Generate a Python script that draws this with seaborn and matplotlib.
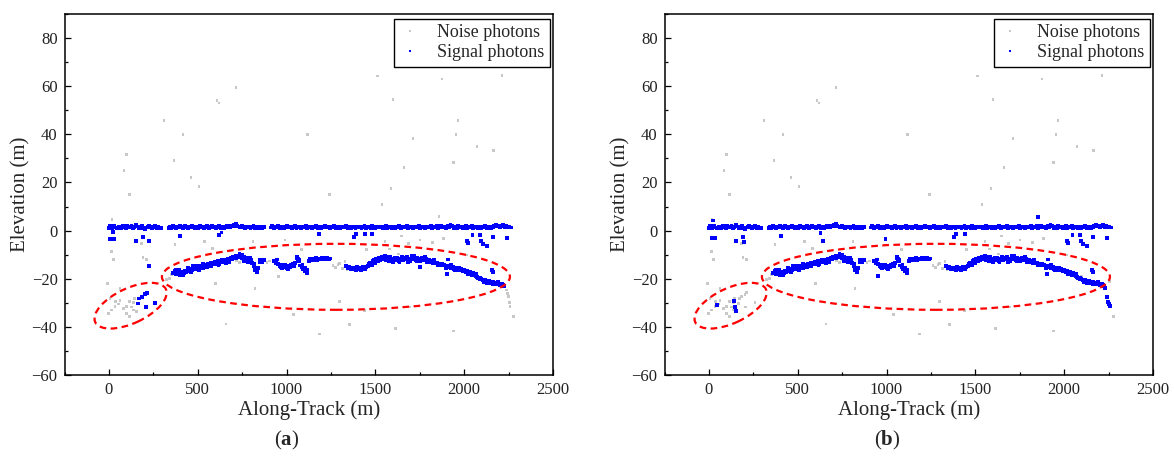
import numpy as np
import pandas as pd
import matplotlib
matplotlib.use("Agg")
import matplotlib.pyplot as plt
import seaborn as sns
from matplotlib.patches import Ellipse
from matplotlib.lines import Line2D
import matplotlib.transforms as mtransforms

# ---------------- data ----------------
surface_x = [0, 7, 15, 22, 31, 38, 46, 55, 63, 70,
             79, 87, 95, 104, 112, 120, 127, 136, 144, 152,
             161, 169, 177, 186, 194, 203, 211, 219, 228, 236,
             245, 253, 262, 270, 278, 287, 295, 336, 344, 352,
             361, 369, 377, 386, 394, 402, 411, 419, 428, 436,
             444, 453, 461, 470, 478, 486, 495, 503, 512, 520,
             528, 537, 545, 554, 562, 570, 579, 587, 596, 604,
             612, 621, 629, 638, 646, 654, 663, 671, 680, 688,
             696, 705, 713, 722, 730, 738, 747, 755, 764, 772,
             780, 789, 797, 806, 814, 822, 831, 839, 848, 856,
             864, 873, 912, 920, 929, 937, 946, 954, 963, 971,
             980, 988, 997, 1005, 1014, 1022, 1031, 1039, 1048, 1056,
             1065, 1073, 1082, 1090, 1099, 1107, 1116, 1124, 1133, 1141,
             1150, 1158, 1167, 1175, 1184, 1192, 1201, 1209, 1218, 1226,
             1235, 1243, 1252, 1260, 1269, 1277, 1286, 1294, 1303, 1311,
             1320, 1328, 1337, 1345, 1354, 1362, 1371, 1379, 1388, 1396,
             1405, 1413, 1422, 1430, 1439, 1447, 1456, 1464, 1473, 1481,
             1490, 1498, 1507, 1515, 1524, 1532, 1541, 1549, 1558, 1566,
             1575, 1583, 1592, 1600, 1609, 1617, 1626, 1634, 1643, 1651,
             1660, 1668, 1677, 1685, 1694, 1702, 1711, 1719, 1728, 1736,
             1745, 1753, 1762, 1770, 1779, 1787, 1796, 1804, 1813, 1821,
             1830, 1838, 1847, 1855, 1864, 1872, 1881, 1889, 1898, 1906,
             1915, 1923, 1932, 1940, 1949, 1957, 1966, 1974, 1983, 1991,
             2000, 2008, 2017, 2025, 2034, 2042, 2051, 2059, 2068, 2076,
             2085, 2093, 2102, 2110, 2119, 2127, 2136, 2144, 2153, 2161,
             2170, 2178, 2187, 2195, 2204, 2212, 2221, 2229, 2238, 2246,
             2255, 2262]
surface_y = [1.2, 1.8, 1.0, 1.6, 2.1, 1.3, 0.9, 1.7, 1.4, 1.1,
             1.9, 1.5, 1.2, 2.0, 1.6, 1.3, 1.8, 1.0, 1.5, 2.2,
             1.7, 1.2, 1.4, 1.9, 1.1, 0.8, 1.3, 1.6, 2.0, 1.4,
             1.0, 1.5, 1.8, 1.2, 1.6, 1.3, 1.1, 0.9, 1.4, 1.2,
             1.8, 1.5, 1.1, 1.7, 1.3, 2.0, 1.6, 1.2, 1.9, 1.4,
             1.0, 1.6, 1.3, 1.8, 1.5, 1.1, 1.7, 1.2, 1.9, 1.4,
             1.6, 1.0, 1.5, 1.8, 1.2, 1.4, 2.0, 1.3, 1.6, 1.1,
             1.5, 1.9, 1.2, 1.7, 1.0, 1.4, 1.8, 1.3, 1.6, 2.1,
             1.8, 2.3, 2.6, 2.0, 1.7, 1.4, 1.9, 1.5, 1.2, 1.6,
             1.3, 1.7, 1.1, 1.5, 1.8, 1.2, 1.6, 1.0, 1.4, 1.7,
             1.2, 1.5, 1.3, 1.8, 1.1, 1.6, 1.4, 1.9, 1.2, 1.5,
             1.7, 1.0, 1.4, 1.8, 1.3, 1.6, 1.1, 1.5, 1.9, 1.2,
             1.4, 1.7, 1.0, 1.5, 1.3, 1.8, 1.2, 1.6, 1.4, 1.1,
             1.6, 1.3, 1.8, 1.2, 1.5, 1.0, 1.7, 1.4, 1.9, 1.3,
             1.5, 1.1, 1.6, 1.4, 1.8, 1.2, 1.5, 1.7, 1.0, 1.4,
             1.6, 1.3, 1.8, 1.1, 1.5, 1.2, 1.7, 1.4, 1.0, 1.6,
             1.3, 1.7, 1.2, 1.5, 1.9, 1.1, 1.4, 1.6, 1.2, 1.8,
             1.5, 1.0, 1.4, 1.7, 1.3, 1.6, 1.1, 1.5, 1.8, 1.2,
             1.4, 1.7, 1.2, 1.6, 1.0, 1.5, 1.3, 1.8, 1.1, 1.6,
             1.3, 1.5, 1.9, 1.2, 1.6, 1.4, 1.0, 1.7, 1.3, 1.5,
             1.8, 1.2, 1.6, 1.4, 1.1, 1.7, 1.3, 1.5, 1.9, 1.2,
             1.6, 1.4, 1.8, 1.1, 1.5, 2.0, 1.3, 1.7, 1.2, 1.9,
             1.5, 2.4, 1.8, 1.2, 1.6, 1.0, 1.9, 1.4, 1.7, 1.1,
             1.5, 1.8, 1.2, 1.6, 1.3, 1.9, 1.0, 1.4, 1.7, 1.2,
             1.6, 1.1, 1.5, 1.3, 1.8, 1.0, 1.4, 1.7, 1.2, 1.5,
             1.9, 2.3, 1.7, 2.1, 1.4, 1.8, 2.2, 1.6, 2.0, 1.5,
             1.7, 1.3]

bottom_x = [362, 370, 378, 386, 394, 402, 410, 418, 427, 435,
            443, 451, 459, 467, 475, 484, 492, 500, 508, 516,
            524, 532, 540, 548, 556, 565, 573, 581, 589, 597,
            605, 613, 621, 629, 637, 646, 654, 662, 670, 678,
            686, 694, 702, 710, 718, 727, 735, 743, 751, 759,
            767, 775, 783, 791, 799, 808, 816, 824, 832, 840,
            848, 856, 864, 872, 930, 938, 946, 954, 962, 970,
            978, 986, 994, 1002, 1010, 1018, 1026, 1034, 1042, 1050,
            1058, 1064, 1070, 1078, 1086, 1094, 1102, 1110, 1118, 1126,
            1134, 1142, 1150, 1158, 1166, 1174, 1182, 1190, 1198, 1206,
            1214, 1222, 1230, 1238, 1246, 1336, 1344, 1352, 1360, 1368,
            1376, 1384, 1392, 1400, 1408, 1416, 1424, 1432, 1440, 1448,
            1456, 1464, 1472, 1480, 1488, 1496, 1504, 1512, 1520, 1528,
            1536, 1544, 1552, 1560, 1568, 1576, 1584, 1592, 1600, 1608,
            1616, 1624, 1632, 1640, 1648, 1656, 1664, 1672, 1680, 1688,
            1696, 1704, 1712, 1720, 1728, 1736, 1744, 1752, 1760, 1768,
            1776, 1784, 1792, 1800, 1808, 1816, 1824, 1832, 1840, 1848,
            1856, 1864, 1872, 1880, 1888, 1896, 1904, 1912, 1920, 1928,
            1936, 1944, 1952, 1960, 1968, 1976, 1984, 1992, 2000, 2008,
            2016, 2024, 2032, 2040, 2048, 2056, 2064, 2072, 2080, 2088,
            2096, 2104, 2112, 2120, 2128, 2136, 2144, 2152, 2160, 2168,
            2176, 2184, 2192, 2200, 2208, 2216, 2222]
bottom_y = [-17.6, -16.8, -18.2, -17.1, -16.5, -17.9, -17.0, -18.4, -16.6, -17.3,
            -16.2, -17.0, -15.8, -16.4, -14.9, -15.6, -16.1, -15.2, -14.6, -15.5,
            -14.8, -15.4, -14.2, -14.9, -13.8, -14.5, -13.6, -14.1, -13.3, -14.0,
            -13.5, -12.8, -13.9, -13.1, -12.4, -13.2, -12.0, -12.7, -11.6, -12.2,
            -11.3, -12.0, -10.8, -11.5, -10.4, -11.0, -9.9, -10.6, -10.2, -11.1,
            -11.8, -12.5, -11.4, -12.9, -12.2, -13.6, -14.8, -16.3, -17.2, -15.4,
            -13.0, -12.4, -12.9, -12.2, -12.5, -13.4, -12.0, -13.9, -14.6, -15.1,
            -14.4, -15.3, -14.8, -15.6, -14.9, -15.2, -14.2, -13.8, -14.6, -13.5,
            -10.8, -11.9, -12.8, -14.5, -15.2, -16.1, -15.5, -17.0, -16.2, -12.6,
            -11.9, -12.4, -11.7, -12.1, -11.5, -12.0, -11.6, -11.9, -11.4, -11.8,
            -11.5, -11.9, -11.3, -11.7, -11.6, -14.9, -15.6, -15.2, -15.9, -15.4,
            -16.0, -15.5, -16.2, -15.7, -16.1, -15.6, -15.9, -15.3, -15.8, -15.0,
            -14.6, -14.0, -13.3, -14.2, -12.7, -13.5, -11.9, -12.6, -11.4, -12.1,
            -11.0, -11.8, -10.6, -12.2, -11.4, -12.6, -11.1, -11.9, -13.2, -11.5,
            -12.3, -11.2, -12.8, -11.6, -10.9, -12.4, -11.3, -12.0, -10.8, -11.7,
            -12.5, -11.1, -11.8, -10.7, -12.2, -11.4, -11.9, -12.6, -11.3, -12.0,
            -12.4, -11.8, -12.9, -12.3, -13.1, -12.7, -13.4, -13.0, -13.6, -13.3,
            -13.9, -14.2, -13.7, -14.5, -14.1, -14.9, -14.6, -15.3, -15.0, -15.6,
            -15.2, -15.9, -15.5, -16.2, -15.8, -16.4, -16.1, -16.7, -16.5, -17.2,
            -16.9, -17.6, -17.3, -18.1, -17.8, -18.6, -18.9, -19.3, -19.7, -20.2,
            -20.0, -20.7, -21.2, -21.0, -21.6, -21.4, -21.9, -21.7, -22.0, -21.8,
            -22.1, -22.3, -22.0, -22.5, -22.8, -22.6, -23.1]

bottom2_x = [380, 398, 422, 447, 463, 488, 505, 530, 552, 576,
             598, 617, 640, 659, 676, 698, 714, 731, 747, 763,
             780, 797, 818, 828, 836, 852, 940, 958, 975, 990,
             1008, 1030, 1061, 1068, 1090, 1106, 1115, 1140, 1170, 1200,
             1228, 1348, 1372, 1396, 1420, 1444, 1468, 1492, 1516, 1540,
             1564, 1588, 1612, 1636, 1660, 1684, 1708, 1732, 1756, 1780,
             1804, 1828, 1852, 1876, 1900, 1924, 1948, 1972, 1996, 2020,
             2044, 2068, 2092, 2116, 2140, 2164, 2188, 2212]
bottom2_y = [-16.3, -18.5, -17.5, -15.5, -17.1, -14.7, -16.4, -13.9, -15.0, -14.6,
             -12.9, -14.2, -12.5, -13.6, -12.9, -10.9, -11.6, -10.5, -11.4, -12.6,
             -13.2, -11.5, -14.0, -16.0, -16.8, -12.0, -12.8, -14.1, -15.6, -14.1,
             -15.8, -14.9, -11.5, -12.2, -14.4, -16.7, -17.5, -12.3, -12.2, -12.0,
             -11.2, -15.5, -16.1, -15.3, -16.3, -15.5, -13.6, -12.2, -12.8, -11.5,
             -10.9, -12.3, -11.9, -13.0, -11.7, -12.9, -10.6, -12.8, -11.6, -11.1,
             -12.8, -12.2, -14.4, -13.8, -15.4, -14.3, -16.3, -15.6, -17.0, -17.9,
             -18.4, -18.0, -19.8, -20.6, -20.9, -21.3, -21.5, -22.3]

noise_x = [17, 15, 28, -6, 101, 85, 118, 310, 366, 417,
           462, 507, 608, 620, 715, 602, 659, 822, 1120, 1244,
           1297, 1353, 1184, 1038, 1441, 1514, 1537, 1588, 1599, 1614,
           1661, 1712, 1695, 1858, 1875, 1942, 1954, 1965, 1942, 2072,
           2167, 2213, 2276, 192, 213, 185, 372, 540, 585, 811,
           991, 1085, 1451, 1554, 1578, 1629, 1648, 1685, 1751, 1822,
           1882, 2013, 2129, 953, 326, 343, 354, 720, 735, 750,
           765, 780, 860, 875, 890, 905, 1262, 1275, 1290, 1300,
           1315, 1329, 1340, -4, 15, 34, 52, 62, 39, 81,
           100, 118, 137, 128, 100, 118, 137, 156, 62, 6,
           146]
noise_y = [4.6, -8.7, -12.0, -22.0, 31.7, 25.0, 15.0, 45.8, 29.0, 40.0,
           22.0, 18.3, 54.0, 53.0, 59.6, -22.0, -38.8, -24.2, 40.0, 15.0,
           -29.6, -39.0, -43.0, -34.7, -33.3, 64.2, 10.8, 17.5, 54.6, -40.7,
           26.3, 38.3, -31.7, 5.8, 63.0, 28.3, 40.0, 45.8, -41.7, 35.0,
           33.3, 64.6, -35.6, -11.3, -12.0, -5.4, -5.8, -4.6, -7.5, -4.6,
           -3.9, -7.8, -8.0, -4.6, -7.6, -9.7, -2.2, -5.3, -3.9, -5.0,
           -3.2, -10.1, -6.0, -19.2, -20.4, -20.0, -18.3, -12.6, -13.3, -12.2,
           -13.0, -12.4, -12.8, -12.1, -13.3, -12.6, -14.6, -15.4, -14.2, -13.7,
           -15.9, -13.0, -16.3, -34.4, -33.0, -31.4, -30.5, -28.9, -29.6, -32.4,
           -31.4, -29.6, -30.0, -31.7, -34.4, -35.8, -33.0, -33.7, -24.0, -28.2,
           -28.2]

# panel (a) only
sig_extra_a_x = [6, 28, 24, 150, 190, 227, 227, 400, 634, 621,
                 1184, 1379, 1391, 1441, 1479, 2017, 2023, 2089, 2094, 2107,
                 2130, 2047, 2163, 2239, 2154, 2160, 1910, 1905, 1751, 171,
                 184, 203, 212, 165, 208, 259]
sig_extra_a_y = [-3.5, -3.5, -0.7, -4.3, -2.8, -4.3, -14.6, -2.2, -0.8, -1.8,
                 -1.4, -2.8, -1.4, -1.4, -1.4, -4.2, -5.0, -1.8, -4.2, -5.5,
                 -6.3, -1.8, -2.8, -3.2, -16.4, -17.1, -12.0, -18.0, -15.0, -28.2,
                 -27.5, -26.4, -25.8, -30.3, -31.7, -30.0]
noise_extra_a_x = [2239, 2245, 2250, 2254, 2258]
noise_extra_a_y = [-24.7, -26.0, -27.5, -30.0, -31.4]

# panel (b) only
sig_extra_b_x = [24, 15, 34, 153, 194, 198, 405, 642, 628, 994,
                 953, 1855, 1379, 1391, 1441, 2017, 2023, 2089, 2094, 2107,
                 2130, 2047, 2163, 2239, 2154, 2160, 1910, 1905, 47, 143,
                 147, 151, 2228, 2243, 2247, 2250, 2256]
sig_extra_b_y = [4.2, -3.2, -3.2, -4.3, -2.5, -4.6, -2.2, -4.3, -1.0, -3.6,
                 -18.8, 5.8, -2.8, -1.4, -1.4, -4.2, -5.0, -1.8, -4.2, -5.5,
                 -6.3, -1.8, -2.8, -3.2, -16.4, -17.1, -12.0, -18.0, -31.0, -29.3,
                 -31.7, -33.5, -24.0, -27.5, -29.6, -30.5, -31.4]
noise_extra_b_x = [171, 184, 203, 212, 165, 208, 259, 2256, 2096, 2113]
noise_extra_b_y = [-28.2, -27.5, -26.4, -25.8, -30.3, -31.7, -30.0, -21.3, -19.0, -20.4]

panel_labels = ["a", "b"]
NOISE = "Noise photons"
SIGNAL = "Signal photons"

# ---------------- style ----------------
sns.set_style("ticks")
plt.rcParams["font.family"] = ["Liberation Serif", "DejaVu Serif"]
plt.rcParams["mathtext.fontset"] = "custom"
plt.rcParams["mathtext.rm"] = "Liberation Serif"
plt.rcParams["mathtext.bf"] = "Liberation Serif:bold"

W, H = 1174, 457
fig = plt.figure(figsize=(W / 100, H / 100), dpi=100)
ax_rects = [
    [64.5 / W, 1 - 375 / H, (553 - 64.5) / W, (375 - 14) / H],
    [664.5 / W, 1 - 375 / H, (1153 - 664.5) / W, (375 - 14) / H],
]


def build(sig_x, sig_y, noi_x, noi_y):
    noise = pd.DataFrame({"x": noi_x, "y": noi_y, "cls": NOISE})
    sig = pd.DataFrame({"x": sig_x, "y": sig_y, "cls": SIGNAL})
    return pd.concat([noise, sig], ignore_index=True)


datasets = [
    build(surface_x + bottom_x + bottom2_x + sig_extra_a_x,
          surface_y + bottom_y + bottom2_y + sig_extra_a_y,
          noise_x + noise_extra_a_x, noise_y + noise_extra_a_y),
    build(surface_x + bottom_x + bottom2_x + sig_extra_b_x,
          surface_y + bottom_y + bottom2_y + sig_extra_b_y,
          noise_x + noise_extra_b_x, noise_y + noise_extra_b_y),
]

palette = {NOISE: "#c8c8c8", SIGNAL: "#0000ff"}
size_map = {NOISE: 4.0, SIGNAL: 8.0}

# ellipse annotations: (centre x, centre y) in data, (width, height) in pixels, angle
ellipses = [((1278, -19.2), (348, 66), 0), ((122, -31.2), (78, 35), 25)]

for rect, df, lab in zip(ax_rects, datasets, panel_labels):
    ax = fig.add_axes(rect)
    sns.scatterplot(data=df, x="x", y="y", hue="cls", palette=palette,
                    size="cls", sizes=size_map,
                    marker="s", linewidth=0, legend=False, ax=ax)
    ax.set_xlim(-250, 2500)
    ax.set_ylim(-60, 90)
    ax.set_xticks([0, 500, 1000, 1500, 2000, 2500])
    ax.set_yticks([-60, -40, -20, 0, 20, 40, 60, 80])
    ax.set_xticks(np.arange(-250, 2501, 250), minor=True)
    ax.set_yticks(np.arange(-60, 91, 10), minor=True)
    ax.tick_params(which="both", direction="in", top=False, right=False,
                   labelsize=12, width=0.9, color="black", labelcolor="#222222")
    ax.tick_params(which="major", length=4.5, pad=5)
    ax.tick_params(which="minor", length=2.5)
    for sp in ax.spines.values():
        sp.set_visible(True)
        sp.set_linewidth(1.1)
        sp.set_color("black")
    ax.set_xlabel("Along-Track (m)", fontsize=15, labelpad=2)
    ax.set_ylabel("Elevation (m)", fontsize=15, labelpad=1)

    handles = [Line2D([], [], linestyle="none", marker="s", markersize=1.8,
                      markerfacecolor=palette[NOISE], markeredgewidth=0),
               Line2D([], [], linestyle="none", marker="s", markersize=1.8,
                      markerfacecolor=palette[SIGNAL], markeredgewidth=0)]
    leg = ax.legend(handles, [NOISE, SIGNAL], loc="upper right",
                    bbox_to_anchor=(1 - 3 / 488, 1 - 5 / 361),
                    borderaxespad=0, fontsize=13, frameon=True, fancybox=False,
                    framealpha=1, edgecolor="black", handlelength=1.2,
                    handletextpad=0.9, borderpad=0.3, labelspacing=0.15)
    leg.get_frame().set_linewidth(1.0)

    for (cx, cy), (wpx, hpx), ang in ellipses:
        trans = fig.dpi_scale_trans + mtransforms.ScaledTranslation(cx, cy, ax.transData)
        e = Ellipse((0, 0), wpx / 100, hpx / 100, angle=ang, transform=trans,
                    fill=False, edgecolor="#ff0000", linewidth=1.6,
                    linestyle=(0, (3, 2)))
        ax.add_patch(e)

    cxf = rect[0] + rect[2] * (287 - 64.5) / 488.5
    fig.text(cxf, 1 - 440 / H, "(" + r"$\mathbf{" + lab + "}$" + ")",
             ha="center", va="center", fontsize=15)

fig.savefig("out.png", dpi=100)
